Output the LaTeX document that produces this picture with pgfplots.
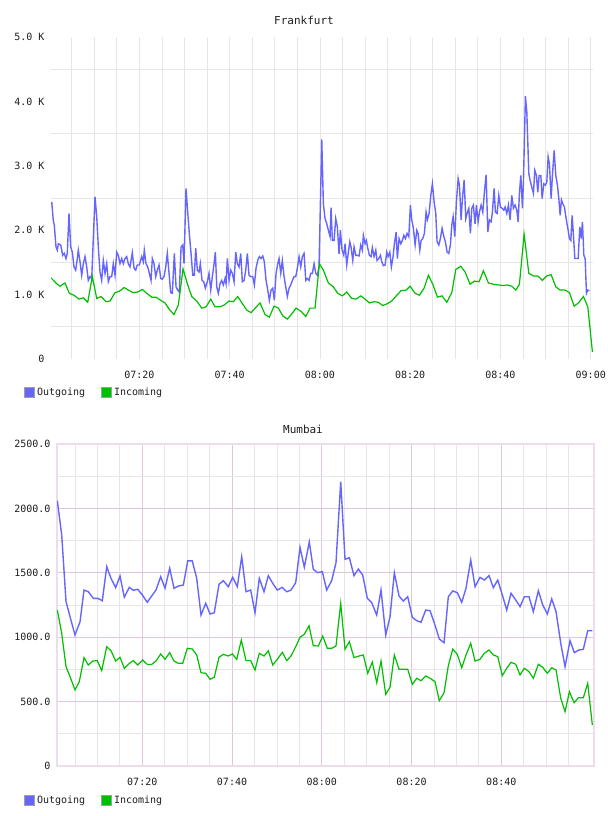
\documentclass[border=0pt]{standalone}
\usepackage{fontspec}
\setmainfont{DejaVu Sans Mono}
\usepackage{pgfplots}
\pgfplotsset{compat=1.18}
\definecolor{oblue}{RGB}{102,102,255}
\definecolor{igreen}{RGB}{0,190,0}
\definecolor{gridg}{RGB}{230,230,230}
\definecolor{gridp}{RGB}{222,198,222}
\definecolor{framep}{RGB}{236,220,236}
\definecolor{txt}{RGB}{30,30,30}
\pgfplotsset{
  common/.style={
    scale only axis, height=322bp,
    ymin=0,
    tick label style={font=\fontsize{10bp}{12bp}\selectfont, text=txt},
    major tick length=0pt, minor tick length=0pt,
    xticklabel style={yshift=-9bp},
    yticklabel style={xshift=-3bp},
    title style={font=\fontsize{11bp}{13bp}\selectfont, text=txt, anchor=center},
    legend style={draw=none, fill=none, inner sep=0pt, outer sep=0pt, anchor=west,
      font=\fontsize{10bp}{12bp}\selectfont, text=txt, legend columns=2,
      /tikz/every even column/.append style={column sep=14bp}},
    legend cell align=left,
    legend image code/.code={},
  },
  outbox/.style={legend image code/.code={\draw[draw=gray!75, fill=oblue, line width=0.8bp] (0bp,-5bp) rectangle (10bp,5bp);}},
  inbox/.style={legend image code/.code={\draw[draw=gray!75, fill=igreen, line width=0.8bp] (0bp,-5bp) rectangle (10bp,5bp);}},
}
\begin{document}
\begin{tikzpicture}
\useasboundingbox (0,0) rectangle (608bp,816bp);
% ---------------- Frankfurt ----------------
\begin{axis}[common,
  at={(51bp,457bp)}, anchor=south west, width=542bp,
  xmin=0.43, xmax=120.5, ymax=5000,
  axis line style={draw=none},
  xtick={20,40,60,80,100,120},
  xticklabels={07:20,07:40,08:00,08:20,08:40,09:00},
  minor xtick={5,10,15,25,30,35,45,50,55,65,70,75,85,90,95,105,110,115},
  ytick={0,1000,2000,3000,4000,5000},
  yticklabels={0,1.0 K,2.0 K,3.0 K,4.0 K,5.0 K},
  minor ytick={500,1500,2500,3500,4500},
  xmajorgrids, xminorgrids, yminorgrids, ymajorgrids=false,
  major grid style={gridg, line width=0.8bp},
  minor grid style={gridg, line width=0.8bp},
  title={Frankfurt},
  title style={at={(axis description cs:0.4668,1.0342)}},
  legend style={at={(axis description cs:-0.0493,-0.1025)}},
]
\addplot[oblue, line width=1.4bp, outbox] coordinates {
(0.59,2440)(0.94,2150)(1.16,2080)(1.54,1740)(1.83,1690)(2.05,1790)(2.58,1770)(3.02,1610)(3.38,1640)(3.75,1560)
(4.04,1640)(4.42,2260)(4.79,1740)(5.15,1660)(5.53,1430)(5.90,1380)(6.26,1560)(6.48,1690)(6.86,1510)(7.23,1300)
(7.59,1480)(7.96,1590)(8.34,1430)(8.69,1220)(9.07,1280)(9.45,1250)(10.18,2520)(10.56,2210)(10.91,1740)(11.29,1350)
(11.66,1220)(12.02,1530)(12.40,1330)(12.77,1480)(13.13,1200)(13.50,1280)(13.88,1280)(14.23,1480)(14.61,1300)(14.99,1660)
(15.34,1610)(15.72,1480)(16.10,1560)(16.45,1480)(16.83,1560)(17.20,1590)(17.56,1480)(17.93,1430)(18.44,1650)(18.82,1410)
(19.20,1380)(19.55,1460)(20.00,1460)(20.53,1590)(20.88,1510)(21.10,1690)(21.48,1480)(21.86,1430)(22.21,1330)(22.59,1220)
(22.88,1560)(23.25,1480)(23.63,1280)(23.98,1380)(24.36,1460)(24.74,1250)(25.09,1240)(25.47,1280)(25.85,1430)(26.20,1640)
(26.58,1330)(26.95,1030)(27.31,1020)(27.75,1640)(28.13,1120)(28.50,1070)(28.86,1040)(29.24,1740)(29.61,1770)(29.90,1480)
(30.34,2650)(30.63,2360)(31.07,1950)(31.45,1640)(31.83,1300)(32.18,1300)(32.49,1720)(32.85,1380)(33.22,1350)(33.51,1480)
(33.89,1220)(34.27,1200)(34.62,1100)(35.06,1200)(35.44,1330)(35.82,1070)(36.17,1280)(36.55,1480)(36.84,1660)(37.15,1120)
(37.50,1020)(37.88,1170)(38.25,1220)(38.61,1150)(38.99,1250)(39.21,1170)(39.50,1560)(39.87,1220)(40.25,1380)(40.60,1330)
(40.98,1200)(41.36,1660)(41.71,1480)(42.09,1430)(42.46,1640)(42.82,1200)(43.20,1220)(43.57,1380)(43.93,1640)(44.30,1300)
(44.68,1280)(45.12,1280)(45.48,1150)(45.85,1410)(46.23,1530)(46.59,1590)(46.96,1560)(47.34,1600)(47.69,1510)(48.07,1220)
(48.45,1070)(48.80,910)(49.18,1070)(49.55,1100)(49.91,910)(50.29,1330)(50.66,1480)(50.95,1560)(51.33,1330)(51.68,1530)
(52.06,1280)(52.43,1120)(52.79,970)(53.17,1100)(53.54,1150)(53.90,1220)(54.27,1280)(54.65,1280)(55.00,1410)(55.38,1590)
(55.76,1430)(56.11,1590)(56.49,1640)(56.87,1220)(57.22,1250)(57.60,1220)(57.97,1330)(58.33,1330)(58.71,1480)(59.08,1330)
(59.44,1300)(59.81,1430)(60.41,3410)(60.77,2410)(61.14,2180)(61.52,2100)(61.87,2000)(62.25,1900)(62.47,2350)(62.76,1840)
(63.14,1840)(63.51,2180)(63.87,2050)(64.24,1630)(64.53,2000)(64.91,1690)(65.29,1610)(65.58,1790)(65.95,1460)(66.31,1660)
(66.62,1820)(66.90,1740)(67.28,1530)(67.57,1740)(67.95,1610)(68.30,1610)(68.68,1600)(69.05,1770)(69.41,1690)(69.63,1920)
(70.01,1790)(70.30,1840)(70.61,1720)(70.96,1610)(71.34,1590)(71.62,1730)(72.00,1590)(72.38,1690)(72.66,1530)(73.04,1560)
(73.40,1610)(73.71,1510)(74.06,1450)(74.44,1460)(74.81,1660)(75.10,1590)(75.48,1660)(75.83,1430)(76.21,1590)(76.50,1790)
(76.88,1970)(77.16,1560)(77.54,1870)(77.92,1790)(78.27,1840)(78.58,1920)(78.94,1870)(79.31,1950)(79.69,1900)(80.05,2390)
(80.35,2160)(80.71,2030)(81.09,1770)(81.46,2000)(81.75,1950)(82.13,1690)(82.42,1840)(82.79,1870)(83.15,1950)(83.52,2280)
(83.81,2160)(84.19,2260)(84.57,2540)(84.92,2720)(85.30,2440)(85.67,2260)(85.96,1820)(86.34,1770)(86.69,1870)(87.07,2030)
(87.45,1900)(87.80,1820)(88.18,1660)(88.55,1640)(88.91,1770)(89.22,2080)(89.51,2210)(89.88,1900)(90.24,2440)(90.62,2800)
(90.91,2700)(91.28,2160)(91.57,2490)(91.95,2780)(92.32,2180)(92.68,2280)(92.99,2340)(93.34,1950)(93.65,2340)(94.00,2390)
(94.37,2100)(94.67,2390)(95.05,2130)(95.34,2280)(95.71,2390)(96.09,2280)(96.44,2590)(96.82,2860)(97.20,1970)(97.55,2160)
(97.93,2130)(98.22,2280)(98.59,2650)(98.88,2280)(99.26,2260)(99.63,2540)(99.99,2360)(100.36,2340)(100.74,2310)(101.03,2360)
(101.41,2260)(101.76,2390)(102.14,2160)(102.51,2540)(102.87,2340)(103.24,2390)(103.62,2310)(103.91,2130)(104.20,2570)(104.51,2850)
(104.87,2340)(105.09,2750)(105.53,4080)(105.84,3830)(106.28,2880)(106.64,2750)(107.01,2650)(107.30,2570)(107.61,2930)(107.96,2850)
(108.27,2590)(108.56,2850)(108.94,2850)(109.23,2490)(109.60,2720)(109.96,2700)(110.27,2750)(110.56,3140)(110.85,3030)(111.22,2490)
(111.51,2850)(111.89,3240)(112.26,2850)(112.62,2700)(112.93,2490)(113.22,2230)(113.51,2470)(113.81,2410)(114.17,2360)(114.55,2180)
(114.92,2030)(115.28,1870)(115.59,1840)(115.88,2230)(116.17,1920)(116.48,1560)(116.83,1560)(117.21,1560)(117.58,2050)(117.87,1870)
(118.16,2130)(118.47,1610)(118.76,1560)(119.05,1020)(119.35,1070)(119.71,1060)
};
\addlegendentry{Outgoing}
\addplot[igreen, line width=1.2bp, inbox] coordinates {
(0.43,1260)(1.69,1170)(2.42,1130)(3.53,1180)(4.48,1020)(5.53,990)(6.63,930)(7.59,950)(8.56,880)(9.58,1280)
(10.56,940)(11.51,970)(12.62,890)(13.50,900)(14.61,1030)(15.56,1050)(16.61,1110)(17.56,1070)(18.67,1030)(19.64,1040)
(20.66,1080)(21.64,1020)(22.74,960)(23.70,960)(24.74,910)(25.69,870)(26.64,770)(27.68,690)(28.64,840)(29.68,1400)
(30.63,1170)(31.61,970)(32.71,900)(33.82,790)(34.78,810)(35.82,930)(36.77,810)(37.88,810)(38.83,840)(39.87,900)
(40.82,890)(41.80,970)(42.82,860)(43.79,760)(44.75,720)(45.79,800)(46.74,870)(47.85,690)(48.80,650)(49.84,820)
(50.80,790)(51.77,670)(52.79,620)(53.76,700)(54.72,790)(55.83,740)(56.87,660)(57.82,790)(58.93,790)(59.88,1480)
(60.77,1380)(61.87,1180)(62.98,1120)(63.96,1020)(64.98,980)(65.95,1040)(67.06,940)(68.01,930)(69.05,980)(70.01,930)
(70.96,870)(72.00,890)(72.95,880)(73.93,830)(74.95,860)(75.92,900)(77.03,990)(77.98,1060)(79.09,1070)(79.98,1130)
(81.09,1020)(82.04,990)(83.08,1100)(84.03,1300)(85.01,1160)(86.03,960)(87.07,980)(88.11,880)(89.22,1030)(90.10,1390)
(91.21,1440)(92.17,1350)(93.27,1160)(94.23,1210)(95.27,1200)(96.22,1370)(97.33,1180)(98.44,1160)(99.54,1150)(100.65,1140)
(101.54,1150)(102.51,1130)(103.40,1070)(104.20,1160)(105.24,1940)(106.28,1330)(107.30,1290)(108.27,1290)(109.29,1220)(110.27,1290)
(111.22,1310)(112.26,1120)(113.22,1070)(114.32,1070)(115.28,1030)(116.32,820)(117.27,870)(118.38,970)(119.35,810)(120.37,110)
};
\addlegendentry{Incoming}
\end{axis}
% ---------------- Mumbai ----------------
\begin{axis}[common,
  at={(57bp,50bp)}, anchor=south west, width=537bp,
  xmin=1.0, xmax=120.66, ymax=2500,
  axis line style={draw=framep, line width=1.5bp},
  xtick={20,40,60,80,100},
  xticklabels={07:20,07:40,08:00,08:20,08:40},
  minor xtick={5,10,15,25,30,35,45,50,55,65,70,75,85,90,95,105,110,115},
  ytick={0,500,1000,1500,2000,2500},
  yticklabels={0,500.0,1000.0,1500.0,2000.0,2500.0},
  minor ytick={250,750,1250,1750,2250},
  xmajorgrids, xminorgrids, ymajorgrids, yminorgrids,
  major grid style={gridp, line width=0.8bp},
  minor grid style={gridg, line width=0.8bp},
  title={Mumbai},
  title style={at={(axis description cs:0.4581,1.028)}},
  legend style={at={(axis description cs:-0.0609,-0.1065)}},
]
\addplot[oblue, line width=1.4bp, outbox] coordinates {
(1.07,2060)(2.05,1794)(3.01,1276)(4.05,1140)(5.01,1017)(6.13,1120)(7.02,1366)(7.98,1353)(9.09,1302)(10.07,1302)
(11.10,1283)(12.08,1548)(13.03,1457)(14.08,1385)(15.04,1475)(16.00,1310)(17.11,1387)(18.00,1364)(18.98,1372)(20.01,1328)
(21.12,1271)(22.10,1320)(23.06,1366)(24.11,1470)(25.07,1380)(26.11,1535)(27.07,1380)(28.03,1397)(29.15,1405)(30.13,1592)
(31.15,1592)(32.13,1457)(33.09,1172)(34.14,1263)(35.10,1180)(36.05,1190)(37.10,1411)(38.06,1439)(39.17,1392)(40.15,1465)
(41.18,1392)(42.16,1625)(43.12,1353)(44.16,1366)(45.12,1190)(46.08,1457)(47.13,1353)(48.09,1478)(49.07,1418)(50.09,1366)
(51.21,1387)(52.19,1353)(53.15,1366)(54.19,1423)(55.15,1698)(56.11,1543)(57.22,1740)(58.11,1527)(59.09,1501)(60.12,1509)
(61.10,1366)(62.21,1439)(63.17,1578)(64.22,2207)(65.18,1605)(66.14,1617)(67.18,1478)(68.14,1529)(69.12,1483)(70.15,1302)
(71.13,1268)(72.24,1172)(73.20,1366)(74.25,1017)(75.21,1159)(76.17,1501)(77.21,1320)(78.17,1281)(79.15,1314)(80.18,1154)
(81.16,1128)(82.12,1116)(83.16,1211)(84.12,1206)(85.23,1095)(86.19,986)(87.24,957)(88.20,1314)(89.18,1359)(90.20,1346)
(91.18,1271)(92.14,1380)(93.19,1599)(94.15,1392)(95.26,1465)(96.22,1444)(97.27,1478)(98.23,1384)(99.21,1444)(100.23,1328)
(101.21,1211)(102.17,1341)(103.22,1289)(104.18,1237)(105.14,1314)(106.18,1314)(107.14,1198)(108.26,1361)(109.24,1250)(110.26,1180)
(111.24,1297)(112.20,1198)(113.25,953)(114.21,771)(115.32,973)(116.28,880)(117.32,901)(118.28,906)(119.26,1050)(120.29,1050)
};
\addlegendentry{Outgoing}
\addplot[igreen, line width=1.2bp, inbox] coordinates {
(1.07,1211)(2.05,1030)(3.01,771)(4.05,681)(5.01,590)(5.97,655)(7.02,841)(7.98,784)(8.96,815)(9.98,818)
(10.96,740)(12.08,926)(13.03,895)(14.08,815)(15.04,844)(16.00,758)(17.11,797)(18.00,818)(18.98,784)(20.10,823)
(21.12,789)(22.10,789)(23.06,815)(24.11,870)(25.07,828)(26.11,880)(27.07,815)(28.03,797)(29.01,797)(30.04,914)
(31.15,908)(32.13,862)(33.09,724)(34.14,720)(35.10,673)(36.05,689)(37.10,844)(38.06,867)(39.17,854)(40.07,870)
(41.05,828)(42.07,978)(43.12,818)(44.16,818)(45.12,745)(46.08,875)(47.13,854)(48.09,895)(49.07,784)(50.09,828)
(51.21,883)(52.19,818)(53.15,854)(54.19,926)(55.15,999)(56.11,1023)(57.16,1089)(58.11,934)(59.23,932)(60.21,1009)
(61.23,914)(62.21,914)(63.17,932)(64.22,1263)(65.18,906)(66.14,965)(67.18,841)(68.30,854)(69.26,862)(70.24,720)
(71.26,807)(72.24,647)(73.20,815)(74.25,557)(75.21,611)(76.17,862)(77.21,751)(78.17,751)(79.15,751)(80.18,634)
(81.16,681)(82.12,662)(83.16,699)(84.12,681)(85.23,655)(86.19,507)(87.24,569)(88.20,779)(89.18,908)(90.20,867)
(91.18,763)(92.14,862)(93.19,953)(94.15,815)(95.26,828)(96.22,875)(97.27,901)(98.23,862)(99.21,849)(100.23,701)
(101.21,759)(102.17,805)(103.22,790)(104.18,707)(105.14,759)(106.18,732)(107.14,681)(108.26,790)(109.24,766)(110.26,720)
(111.24,763)(112.20,745)(113.25,526)(114.21,422)(115.18,577)(116.23,491)(117.16,530)(118.28,530)(119.26,642)(120.29,318)
};
\addlegendentry{Incoming}
\end{axis}
\end{tikzpicture}
\end{document}
